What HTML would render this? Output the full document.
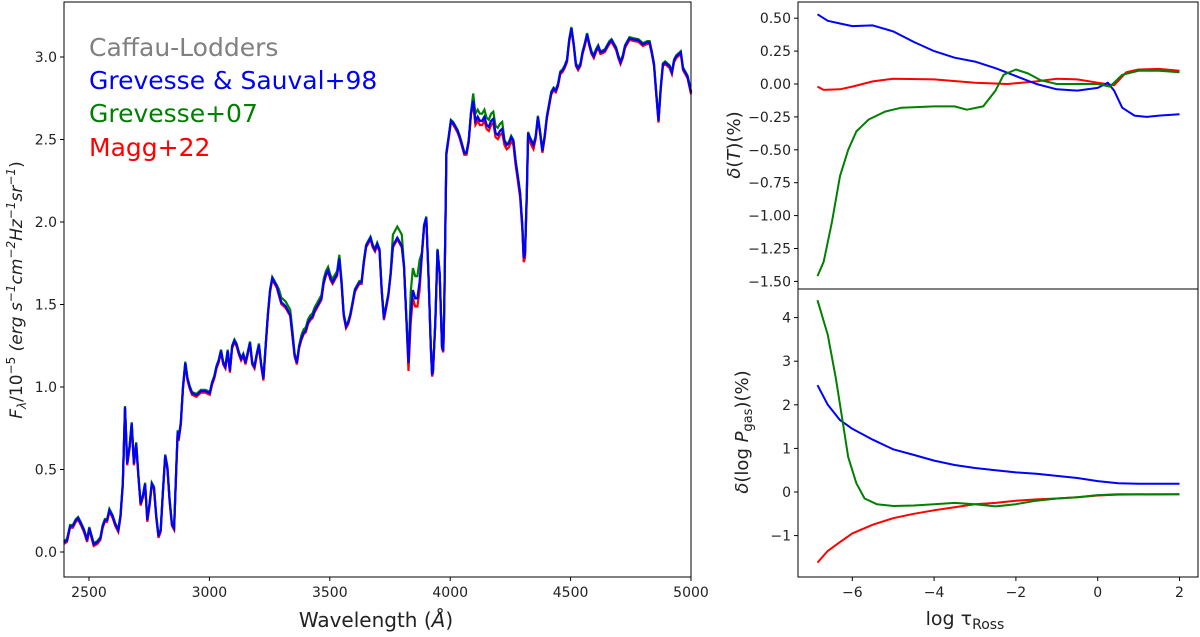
<!DOCTYPE html>
<html><head><meta charset="utf-8"><style>
body{margin:0;background:#fff;width:1200px;height:632px;overflow:hidden}
svg text{font-family:"DejaVu Sans","Liberation Sans",sans-serif;fill:#222}
</style></head><body>
<svg id="s" width="1200" height="632" xmlns="http://www.w3.org/2000/svg">
<rect width="1200" height="632" fill="#fff"/>
<g id="L"></g><g id="R"></g>
<rect x="64" y="2" width="627" height="575" fill="none" stroke="#000" stroke-width="1"/>
<rect x="798" y="2" width="400" height="287" fill="none" stroke="#000" stroke-width="1"/>
<rect x="798" y="289" width="400" height="288" fill="none" stroke="#000" stroke-width="1"/>
<g id="T"></g>
<text x="89" y="56" font-size="25" style="fill:#808080">Caffau-Lodders</text>
<text x="89" y="89" font-size="25" style="fill:#0000ff">Grevesse &amp; Sauval+98</text>
<text x="89" y="122" font-size="25" style="fill:#008000">Grevesse+07</text>
<text x="89" y="156" font-size="25" style="fill:#ff0000">Magg+22</text>
<text x="376" y="627" font-size="20" text-anchor="middle">Wavelength (<tspan font-style="italic">Å</tspan>)</text>
<text transform="translate(22,290) rotate(-90)" font-size="17" text-anchor="middle" font-style="italic"><tspan>F</tspan><tspan font-size="12" dy="4">λ</tspan><tspan font-style="normal" dy="-4">/10</tspan><tspan font-style="normal" font-size="12" dy="-7">−5</tspan><tspan dy="7">  (erg s</tspan><tspan font-size="12" dy="-7">−1</tspan><tspan dy="7">cm</tspan><tspan font-size="12" dy="-7">−2</tspan><tspan dy="7">Hz</tspan><tspan font-size="12" dy="-7">−1</tspan><tspan dy="7">sr</tspan><tspan font-size="12" dy="-7">−1</tspan><tspan dy="7" font-style="normal">)</tspan></text>
<text transform="translate(740,145) rotate(-90)" font-size="18" text-anchor="middle"><tspan font-style="italic">δ</tspan>(<tspan font-style="italic">T</tspan>)(%)</text>
<text transform="translate(748,432) rotate(-90)" font-size="18" text-anchor="middle"><tspan font-style="italic">δ</tspan>(log <tspan font-style="italic">P</tspan><tspan font-size="13" dy="4">gas</tspan><tspan dy="-4">)(%)</tspan></text>
<text x="965" y="625" font-size="19" text-anchor="middle">log τ<tspan font-size="14" dy="4">Ross</tspan></text>
</svg>
<script>
var NS="http://www.w3.org/2000/svg";
function el(p,t,a,txt){var e=document.createElementNS(NS,t);for(var k in a)e.setAttribute(k,a[k]);if(txt!=null)e.textContent=txt;p.appendChild(e);return e;}
var B=[143,1345,150,1340,157,1305,163,1305,170,1290,175,1285,182,1300,188,1315,195,1340,200,1310,205,1330,210,1350,218,1345,225,1335,230,1305,235,1290,240,1290,245,1265,252,1280,258,1300,265,1315,270,1280,275,1200,280,1010,285,1150,290,1110,295,1050,300,1150,305,1100,310,1180,315,1250,320,1230,325,1200,330,1290,335,1250,340,1200,345,1210,350,1280,355,1330,360,1315,365,1220,370,1130,375,1160,380,1240,385,1300,390,1310,395,1160,398,1070,400,1090,405,1050,410,960,415,900,420,940,425,960,430,975,440,980,450,970,460,970,470,975,475,950,480,935,485,910,490,895,495,870,500,900,505,910,510,870,515,920,520,860,525,845,530,855,535,875,540,890,545,880,550,900,555,875,560,850,565,900,570,910,575,880,580,855,585,905,590,940,595,860,600,780,605,720,610,690,615,700,620,710,625,730,630,750,635,755,640,760,645,770,650,780,655,830,660,880,665,900,670,860,675,840,680,825,685,820,690,800,695,790,700,785,705,770,710,760,715,750,720,740,725,700,730,680,735,670,740,690,745,700,750,690,755,680,760,640,765,700,770,780,775,810,780,800,785,780,790,750,795,720,800,710,805,700,810,700,815,650,820,610,825,600,830,590,835,610,840,620,845,605,850,620,855,720,860,790,865,760,870,730,875,680,880,610,885,600,890,590,895,600,900,610,905,660,910,780,915,900,920,780,925,720,930,740,935,740,940,700,945,630,950,560,955,540,960,690,965,860,968,930,970,920,975,800,980,620,985,680,990,860,993,870,995,770,1000,380,1005,340,1010,300,1015,305,1020,315,1025,325,1030,340,1035,360,1040,380,1045,380,1050,350,1055,280,1060,250,1065,300,1070,290,1075,300,1080,300,1085,290,1090,310,1095,315,1100,300,1105,295,1110,330,1115,335,1120,325,1125,320,1130,350,1135,360,1140,355,1145,340,1150,350,1155,400,1160,440,1165,480,1170,560,1173,640,1176,630,1180,480,1183,330,1186,340,1190,350,1195,360,1200,340,1205,290,1210,330,1215,375,1220,340,1225,290,1230,260,1235,230,1240,220,1245,225,1250,210,1255,180,1260,175,1265,165,1270,150,1275,100,1280,70,1285,110,1290,160,1295,170,1300,160,1305,130,1310,110,1315,85,1320,110,1325,130,1330,140,1335,125,1340,115,1345,130,1350,128,1355,125,1360,115,1365,105,1370,100,1375,110,1380,120,1385,140,1390,155,1395,140,1400,115,1405,105,1410,95,1420,98,1430,100,1440,110,1450,105,1455,105,1460,130,1465,160,1470,230,1475,300,1480,220,1485,160,1490,155,1495,160,1500,165,1505,180,1510,150,1515,140,1520,135,1525,130,1530,170,1535,180,1540,190,1548,230];
function gOff(x){if(x>620&&x<660)return -12;if(x>672&&x<770)return -8;if(x>875&&x<902)return -28;if(x>918&&x<945)return -55;if(x>1055&&x<1130)return -18;return -3;}
function rOff(x){if(x>910&&x<945)return 20;if(x>1055&&x<1200)return 10;return 4;}
function specPath(off){var s="";for(var i=0;i<B.length;i+=2){var x=B[i]/2.24,y=(B[i+1]+(off?off(B[i]):0))/2.48;s+=(i?"L":"M")+x.toFixed(1)+","+y.toFixed(1);}return s;}
var L=document.getElementById("L");
el(L,"path",{d:specPath(function(x){return -1}),fill:"none",stroke:"#808080","stroke-width":2.2});
el(L,"path",{d:specPath(rOff),fill:"none",stroke:"#ff0000","stroke-width":2.2});
el(L,"path",{d:specPath(gOff),fill:"none",stroke:"#008000","stroke-width":2.2});
el(L,"path",{d:specPath(null),fill:"none",stroke:"#0000ff","stroke-width":2.2});
var T=document.getElementById("T");
for(var w=2500;w<=5000;w+=500){var x=89+(w-2500)*0.2408;el(T,"line",{x1:x,y1:577,x2:x,y2:581,stroke:"#000"});el(T,"text",{x:x,y:597,"font-size":14,"text-anchor":"middle"},w);}
for(var v=0;v<=3.0001;v+=0.5){var y=552-v*165;el(T,"line",{x1:60,y1:y,x2:64,y2:y,stroke:"#000"});el(T,"text",{x:57,y:y+5,"font-size":14,"text-anchor":"end"},v.toFixed(1));}
function X(t){return 1097.7+t*40.9;}
function Yt(v){return 84-v*131.6;}
function Yb(v){return 492-v*43.6;}
for(var t=-6;t<=2;t+=2){el(T,"line",{x1:X(t),y1:577,x2:X(t),y2:581,stroke:"#000"});el(T,"text",{x:X(t),y:597,"font-size":14,"text-anchor":"middle"},(t<0?"−":"")+Math.abs(t));}
[0.5,0.25,0,-0.25,-0.5,-0.75,-1,-1.25,-1.5].forEach(function(v){var y=Yt(v);el(T,"line",{x1:794,y1:y,x2:798,y2:y,stroke:"#000"});el(T,"text",{x:791,y:y+5,"font-size":14,"text-anchor":"end"},(v<0?"−":"")+Math.abs(v).toFixed(2));});
[4,3,2,1,0,-1].forEach(function(v){var y=Yb(v);el(T,"line",{x1:794,y1:y,x2:798,y2:y,stroke:"#000"});el(T,"text",{x:791,y:y+5,"font-size":14,"text-anchor":"end"},(v<0?"−":"")+Math.abs(v));});
var R=document.getElementById("R");
function curve(pts,Y,col){var s="";for(var i=0;i<pts.length;i+=2)s+=(i?"L":"M")+X(pts[i]).toFixed(1)+","+Y(pts[i+1]).toFixed(1);el(R,"path",{d:s,fill:"none",stroke:col,"stroke-width":2,"stroke-linejoin":"round"});}
curve([-6.85,-0.02,-6.7,-0.045,-6.3,-0.04,-6,-0.02,-5.5,0.02,-5,0.04,-4,0.035,-3,0.01,-2.2,0.0,-1.5,0.02,-1,0.04,-0.5,0.035,0,0.01,0.4,-0.01,0.7,0.09,1,0.11,1.5,0.115,2,0.10],Yt,"#ff0000");
curve([-6.85,0.53,-6.6,0.48,-6.3,0.46,-6,0.44,-5.5,0.445,-5,0.40,-4.5,0.32,-4,0.25,-3.5,0.20,-3,0.17,-2.5,0.12,-2,0.06,-1.5,0.0,-1,-0.04,-0.5,-0.05,0,-0.03,0.25,0.01,0.4,-0.05,0.6,-0.18,0.9,-0.24,1.2,-0.25,1.5,-0.24,2,-0.23],Yt,"#0000ff");
curve([-6.85,-1.46,-6.7,-1.35,-6.5,-1.05,-6.3,-0.7,-6.1,-0.5,-5.9,-0.36,-5.6,-0.27,-5.2,-0.21,-4.8,-0.18,-4,-0.17,-3.5,-0.17,-3.2,-0.195,-2.8,-0.17,-2.5,-0.05,-2.3,0.07,-2,0.11,-1.7,0.08,-1.4,0.03,-1,0.0,-0.5,0.0,0,0.0,0.3,-0.02,0.6,0.07,1,0.10,1.5,0.10,2,0.09],Yt,"#008000");
curve([-6.85,-1.62,-6.6,-1.35,-6.3,-1.15,-6,-0.95,-5.5,-0.75,-5,-0.6,-4.5,-0.5,-4,-0.42,-3.5,-0.35,-3,-0.28,-2.5,-0.25,-2,-0.2,-1.5,-0.17,-1,-0.15,-0.5,-0.12,0,-0.08,0.5,-0.06,2,-0.05],Yb,"#ff0000");
curve([-6.85,2.45,-6.6,2.0,-6.3,1.65,-6,1.45,-5.5,1.2,-5,0.98,-4.5,0.85,-4,0.72,-3.5,0.62,-3,0.55,-2.5,0.5,-2,0.45,-1.5,0.42,-1,0.37,-0.5,0.32,0,0.25,0.5,0.2,1,0.19,2,0.19],Yb,"#0000ff");
curve([-6.85,4.4,-6.6,3.6,-6.4,2.6,-6.25,1.7,-6.1,0.8,-5.9,0.2,-5.7,-0.15,-5.4,-0.28,-5,-0.32,-4.5,-0.31,-4,-0.28,-3.5,-0.25,-3,-0.28,-2.5,-0.33,-2,-0.28,-1.5,-0.2,-1,-0.15,-0.5,-0.12,0,-0.07,0.5,-0.05,1,-0.05,2,-0.05],Yb,"#008000");
</script>
</body></html>
